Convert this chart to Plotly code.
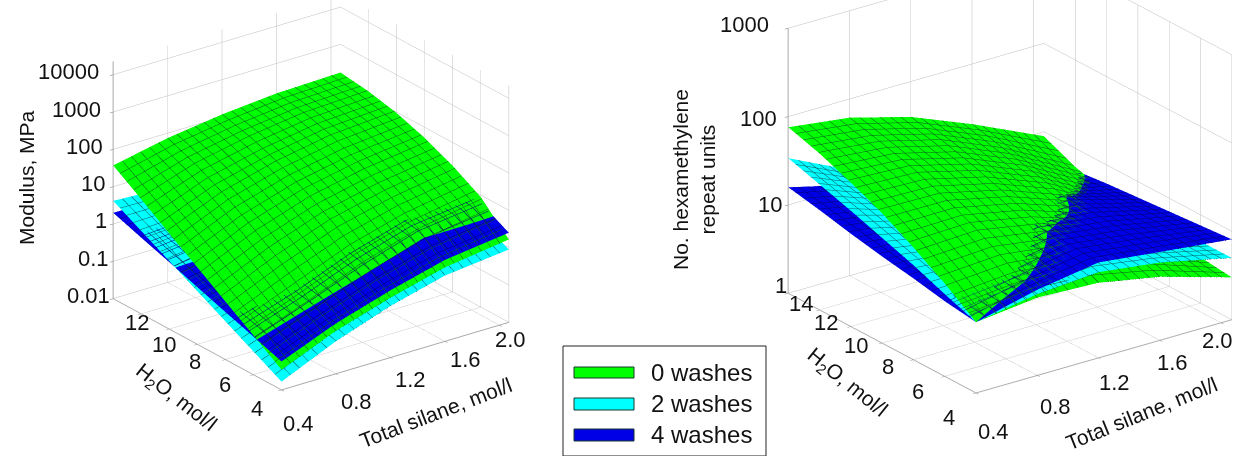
import numpy as np
import plotly.graph_objects as go

silane = [0.4, 0.8, 1.2, 1.6, 2.07]
water = [4, 6, 8, 10, 12, 14, 16]

# log10 of values, rows follow water, columns follow silane
modulus_0 = [[-1.46,-.85,-.4,-.02,.22],[-.95,-.4,.2,.65,.95],[-.45,.2,.75,1.1,1.38],[.06,.72,1.2,1.5,1.72],[.56,1.18,1.58,1.85,1.98],[1.07,1.57,1.87,2.07,2.15],[1.57,1.87,2.07,2.2,2.25]]
modulus_2 = [[-1.78,-1.13,-.62,-.24,-.05],[-1.38,-.85,-.2,.2,.35],[-.98,-.5,.1,.5,.6],[-.58,-.2,.3,.7,.8],[-.18,.05,.5,.85,.95],[.22,.3,.7,1.0,1.1],[.62,.55,.85,1.1,1.25]]
modulus_4 = [[-1.24,-.65,-.2,.18,.4],[-.98,-.45,.12,.58,.8],[-.73,-.3,.3,.7,.9],[-.47,-.15,.45,.8,1.0],[-.21,0,.55,.88,1.05],[.04,.15,.65,.95,1.1],[.3,.3,.75,1.0,1.15]]

repeat_0 = [[.8,.88,.85,.72,.48],[1.05,1.1,1.02,.84,.52],[1.27,1.3,1.17,.95,.57],[1.47,1.46,1.3,1.05,.62],[1.63,1.6,1.42,1.14,.69],[1.77,1.7,1.52,1.23,.79],[1.88,1.79,1.6,1.32,.95]]
repeat_2 = [[.8,.92,.97,.88,.70],[.93,.99,1.05,.9,.70],[1.07,1.0,1.13,.98,.70],[1.19,1.05,1.05,1.05,.71],[1.31,1.1,1.0,1.0,.73],[1.42,1.15,1.0,.9,.76],[1.53,1.2,1.0,.85,.78]]
repeat_4 = [[.8,.97,1.08,1.0,.91],[.85,.98,1.11,1.02,.88],[.92,.95,1.12,1.04,.85],[.98,.95,1.0,1.05,.82],[1.05,.98,.9,.95,.79],[1.13,1.0,.87,.8,.75],[1.2,1.03,.85,.75,.7]]

series_names = ["0 washes", "2 washes", "4 washes"]
fills = ["#00FF00", "#00FFFF", "#0000E6"]
edges = ["#0B5A20", "#0B5A60", "#000070"]
edge_widths = [2, 1, 1]

x_ticks = [0.4, 0.8, 1.2, 1.6, 2.0]
y_ticks_left = [4, 6, 8, 10, 12, 14]
y_ticks_right = [4, 6, 8, 10, 12, 14]
z_ticks_left = [0.01, 0.1, 1, 10, 100, 1000, 10000]
z_ticks_right = [1, 10, 100, 1000]

FONT = "Liberation Sans"
TXT = "#111111"
GRID = "#bdbdbd"
AXL = "#a8a8a8"
W, H = 1236, 456


def surface(z, i, scene):
    c = fills[i]
    contour = dict(show=True, color=edges[i], width=edge_widths[i], highlight=False)
    return go.Surface(
        x=silane, y=water, z=10 ** np.array(z), scene=scene, name=series_names[i],
        colorscale=[[0, c], [1, c]], showscale=False,
        lighting=dict(ambient=1, diffuse=0, specular=0, roughness=1, fresnel=0),
        contours=dict(
            x=dict(start=0.4, end=2.07, size=0.0668, **contour),
            y=dict(start=4, end=16, size=0.48, **contour),
            z=dict(show=False),
        ),
    )


fig = go.Figure()
for i, z in enumerate([modulus_0, modulus_2, modulus_4]):
    fig.add_trace(surface(z, i, "scene"))
for i, z in enumerate([repeat_0, repeat_2, repeat_4]):
    fig.add_trace(surface(z, i, "scene2"))


def axis(rng, ticks, kind="linear"):
    return dict(
        type=kind, range=rng, tickvals=ticks, showticklabels=False, title=dict(text=""),
        showgrid=True, gridcolor=GRID, gridwidth=1, showline=True, linecolor=AXL, linewidth=2,
        ticks="outside", tickcolor="#777777", ticklen=4, zeroline=False, showspikes=False,
        showbackground=False,
    )


def label(x, y, z, text, xs=0, ys=0, size=22, xa="center"):
    return dict(x=x, y=y, z=float(np.log10(z)), text=text, showarrow=False, xshift=xs, yshift=ys,
                xanchor=xa, yanchor="middle", font=dict(family=FONT, size=size, color=TXT))


lx = [(-5, 14), (-1, 8), (-2, 2), (-1, -2), (-11, -6)]
ly = [(-3, 14), (-7, 5), (-9, -3), (-12, -5), (-11, -12)]
lz = [7, 6, 4, 2, 0, -2, -4]
ann1 = [label(v, 4, 0.01, f"{v:.1f}", 22 + d[0], -20 - d[1]) for v, d in zip(x_ticks, lx)]
ann1 += [label(0.4, v, 0.01, str(v), -21 + d[0], -5 - d[1]) for v, d in zip(y_ticks_left, ly)]
ann1 += [label(0.4, 16, v, str(v), -8 + d, 3, xa="right") for v, d in zip(z_ticks_left, lz)]

rx = [(-6, 19), (-6, 11), (-8, 5), (-11, 2), (-28, -2)]
ry = [(-6, 20), (-5, 10), (-4, 2), (-5, -3), (-3, -9), (3, -11)]
rz = [(11, 11), (6, 3), (1, 1), (-7, 7)]
ann2 = [label(v, 4, 1, f"{v:.1f}", 24 + d[0], -20 - d[1]) for v, d in zip(x_ticks, rx)]
ann2 += [label(0.4, v, 1, str(v), -21 + d[0], -5 - d[1]) for v, d in zip(y_ticks_right, ry)]
ann2 += [label(0.4, 16, v, str(v), -10 + d[0], -3 + d[1], xa="right") for v, d in zip(z_ticks_right, rz)]


def cam(e, c):
    return dict(eye=dict(x=e[0], y=e[1], z=e[2]), center=dict(x=c[0], y=c[1], z=c[2]), up=dict(x=0, y=0, z=1),
                projection=dict(type="orthographic"))


fig.update_layout(
    width=W, height=H, margin=dict(l=0, r=0, t=0, b=0), paper_bgcolor="white", showlegend=False,
    font=dict(family=FONT, color=TXT),
    scene=dict(domain=dict(x=[0, 0.503], y=[0, 1]), camera=cam((-1.673,-2.259,1.06), (-.0378,-.051,-.1447)),
               aspectmode="manual", aspectratio=dict(x=1.241, y=1.241, z=1.135),
               xaxis=axis([0.4, 2.07], x_ticks), yaxis=axis([4, 16], y_ticks_left),
               zaxis=axis([-2, 4.35], z_ticks_left, "log"), annotations=ann1),
    scene2=dict(domain=dict(x=[0.6, 1], y=[0, 1]), camera=cam((-1.764,-2.246,.951), (-.1289,-.0199,-.2181)),
                aspectmode="manual", aspectratio=dict(x=1.392, y=1.392, z=1.262),
                xaxis=axis([0.4, 2.07], x_ticks), yaxis=axis([4, 16], y_ticks_right),
                zaxis=axis([0, 3], z_ticks_right, "log"), annotations=ann2),
)


def px(x):
    return x / W


def py(y):
    return 1 - y / H


shapes = [dict(type="rect", xref="paper", yref="paper", x0=px(563), x1=px(766), y0=py(346), y1=py(456),
               line=dict(color="#222222", width=1), fillcolor="white", layer="below")]
for i, (y0, y1) in enumerate([(367, 378), (398, 410), (429, 441)]):
    shapes.append(dict(type="rect", xref="paper", yref="paper", x0=px(574), x1=px(634), y0=py(y0), y1=py(y1),
                       line=dict(color="#1a3a2a", width=1), fillcolor=fills[i]))
fig.update_layout(shapes=shapes)
for i, yc in enumerate([372, 403, 434]):
    fig.add_annotation(xref="paper", yref="paper", x=px(649), y=py(yc), text=series_names[i], showarrow=False,
                       xanchor="left", yanchor="middle", font=dict(family=FONT, size=24, color=TXT))

titles = [
    ("Modulus, MPa", 26, 178, -90),
    ("H<sub>2</sub>O, mol/l", 176, 398, 38),
    ("Total silane, mol/l", 436, 412, -21),
    ("No. hexamethylene<br>repeat units", 694, 180, -90),
    ("H<sub>2</sub>O, mol/l", 847, 383, 39),
    ("Total silane, mol/l", 1141, 413, -22),
]
for text, x, y, angle in titles:
    fig.add_annotation(xref="paper", yref="paper", x=px(x), y=py(y), text=text, showarrow=False, textangle=angle,
                       xanchor="center", yanchor="middle", font=dict(family=FONT, size=21, color=TXT))

fig.write_html("out.html", config=dict(displayModeBar=False), post_script="document.body.style.margin='0';")
